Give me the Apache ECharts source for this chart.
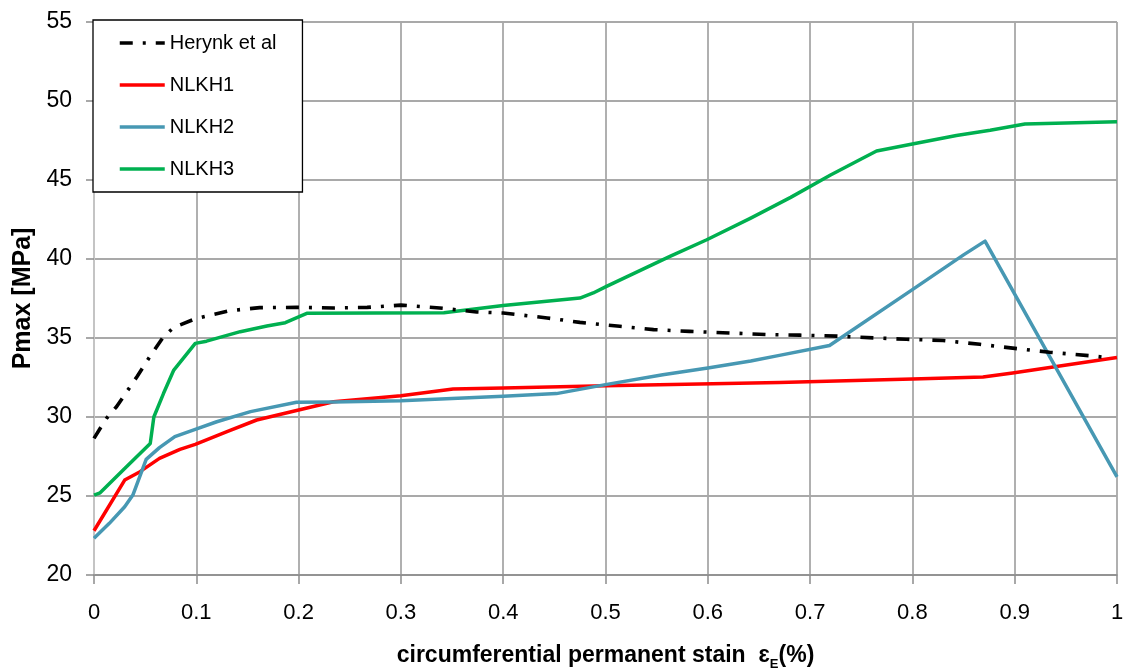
<!DOCTYPE html>
<html>
<head>
<meta charset="utf-8">
<script src="https://cdn.jsdelivr.net/npm/echarts@6/dist/echarts.min.js"></script>
<style>
  html, body { margin: 0; padding: 0; background: #fff; }
  #chart { width: 1126px; height: 671px; }
</style>
</head>
<body>
<div id="chart"></div>
<script>
// Maximum pressure versus circumferential permanent strain, [strain %, Pmax MPa]
const herynk = [
  [0, 28.65], [0.012, 29.9], [0.022, 30.65], [0.042, 32.55], [0.055, 33.86],
  [0.068, 35.08], [0.078, 35.67], [0.1, 36.24], [0.133, 36.73], [0.162, 36.92],
  [0.198, 36.94], [0.234, 36.9], [0.267, 36.94], [0.3, 37.08], [0.338, 36.9],
  [0.374, 36.65], [0.4, 36.58], [0.443, 36.27], [0.475, 35.99], [0.514, 35.74],
  [0.547, 35.53], [0.582, 35.42], [0.621, 35.32], [0.657, 35.22], [0.69, 35.18],
  [0.726, 35.12], [0.762, 35.01], [0.794, 34.92], [0.83, 34.84], [0.866, 34.6],
  [0.898, 34.36], [0.934, 34.1], [0.973, 33.88], [0.985, 33.8]
];
const nlkh1 = [
  [0, 22.8], [0.03, 26.01], [0.045, 26.54], [0.064, 27.38], [0.084, 27.95],
  [0.099, 28.27], [0.13, 29.07], [0.159, 29.81], [0.2, 30.44], [0.234, 30.97],
  [0.3, 31.35], [0.351, 31.77], [0.4, 31.84], [0.5, 31.98], [0.67, 32.19],
  [0.8, 32.4], [0.869, 32.53], [0.898, 32.79], [1.0, 33.77]
];
const nlkh2 = [
  [0, 22.32], [0.015, 23.27], [0.03, 24.32], [0.038, 25.06], [0.051, 27.32],
  [0.064, 28.06], [0.079, 28.76], [0.099, 29.22], [0.12, 29.7], [0.153, 30.34],
  [0.198, 30.93], [0.234, 30.95], [0.3, 31.03], [0.4, 31.31], [0.452, 31.48],
  [0.5, 32.05], [0.556, 32.68], [0.6, 33.1], [0.642, 33.55], [0.67, 33.9],
  [0.719, 34.53], [0.8, 38.06], [0.85, 40.26], [0.871, 41.13], [1.0, 26.21]
];
const nlkh3 = [
  [0, 25.06], [0.006, 25.2], [0.032, 26.86], [0.055, 28.33], [0.0585, 30.0],
  [0.068, 31.5], [0.078, 32.97], [0.099, 34.66], [0.11, 34.8], [0.143, 35.4],
  [0.169, 35.76], [0.187, 35.97], [0.208, 36.56], [0.342, 36.6], [0.4, 37.05],
  [0.475, 37.53], [0.488, 37.85], [0.501, 38.27], [0.563, 40.17], [0.599, 41.22],
  [0.642, 42.59], [0.681, 43.9], [0.72, 45.32], [0.749, 46.3], [0.765, 46.84],
  [0.8, 47.28], [0.843, 47.82], [0.876, 48.15], [0.91, 48.54], [1.0, 48.69]
];
const seriesNames = ['Herynk et al', 'NLKH1', 'NLKH2', 'NLKH3'];
const xTitle = '{t|circumferential permanent stain  }{e|ɛ}{s|E}{t|(%)}';
const yTitle = 'Pmax [MPa]';

const FONT = '"Liberation Sans", Arial, sans-serif';
const chart = echarts.init(document.getElementById('chart'), null, { renderer: 'canvas' });

function lineSeries(name, data, color, width, type) {
  return {
    name: name,
    type: 'line',
    data: data,
    symbol: 'none',
    showSymbol: false,
    smooth: false,
    animation: false,
    lineStyle: { color: color, width: width, type: type || 'solid', cap: 'butt', join: 'round' },
    itemStyle: { color: color },
    emphasis: { disabled: true }
  };
}

chart.setOption({
  backgroundColor: '#fff',
  animation: false,
  textStyle: { fontFamily: FONT },
  grid: { left: 94, right: 9, top: 22, bottom: 96, containLabel: false, outerBoundsMode: 'none' },
  legend: {
    data: seriesNames,
    orient: 'vertical',
    left: 93,
    top: 20,
    padding: [13, 26, 13, 25],
    itemGap: 22,
    itemWidth: 45,
    itemHeight: 14,
    backgroundColor: '#fff',
    borderColor: '#000',
    borderWidth: 1.3,
    borderRadius: 0,
    selectedMode: false,
    itemStyle: { opacity: 0, borderWidth: 0 },
    lineStyle: { width: 3.5 },
    textStyle: { fontFamily: FONT, fontSize: 20, color: '#000', lineHeight: 20 }
  },
  xAxis: {
    type: 'value',
    min: 0,
    max: 1,
    interval: 0.1,
    name: xTitle,
    nameLocation: 'middle',
    nameGap: 66,
    nameTextStyle: {
      fontFamily: FONT,
      rich: {
        t: { fontFamily: FONT, fontSize: 23, fontWeight: 'bold', color: '#000', lineHeight: 30, verticalAlign: 'middle' },
        e: { fontFamily: FONT, fontSize: 23, fontWeight: 'bold', color: '#000', lineHeight: 30, verticalAlign: 'middle' },
        s: { fontFamily: FONT, fontSize: 13, fontWeight: 'bold', color: '#000', lineHeight: 13, verticalAlign: 'bottom' }
      }
    },
    axisLine: { show: true, lineStyle: { color: '#8c8c8c', width: 1.5 } },
    axisTick: { show: true, length: 9, lineStyle: { color: '#8c8c8c', width: 1.5 } },
    axisLabel: { fontFamily: FONT, fontSize: 22, color: '#000', margin: 27 },
    splitLine: { show: true, lineStyle: { color: '#a8a8a8', width: 1.8 } }
  },
  yAxis: {
    type: 'value',
    min: 20,
    max: 55,
    interval: 5,
    name: yTitle,
    nameLocation: 'middle',
    nameGap: 58,
    nameTextStyle: { fontFamily: FONT, fontSize: 25, fontWeight: 'bold', color: '#000' },
    axisLine: { show: true, lineStyle: { color: '#c4c4c4', width: 2 } },
    axisTick: { show: true, length: 8, lineStyle: { color: '#8c8c8c', width: 1.5 } },
    axisLabel: { fontFamily: FONT, fontSize: 23, color: '#000', margin: 22 },
    splitLine: { show: true, lineStyle: { color: '#8c8c8c', width: 1.5 } }
  },
  series: [
    lineSeries('NLKH1', nlkh1, '#ff0000', 3.5),
    lineSeries('NLKH2', nlkh2, '#4798b3', 3.5),
    lineSeries('NLKH3', nlkh3, '#00b050', 3.5),
    lineSeries('Herynk et al', herynk, '#000000', 3.6, [13, 10, 3, 10])
  ]
});
</script>
</body>
</html>
